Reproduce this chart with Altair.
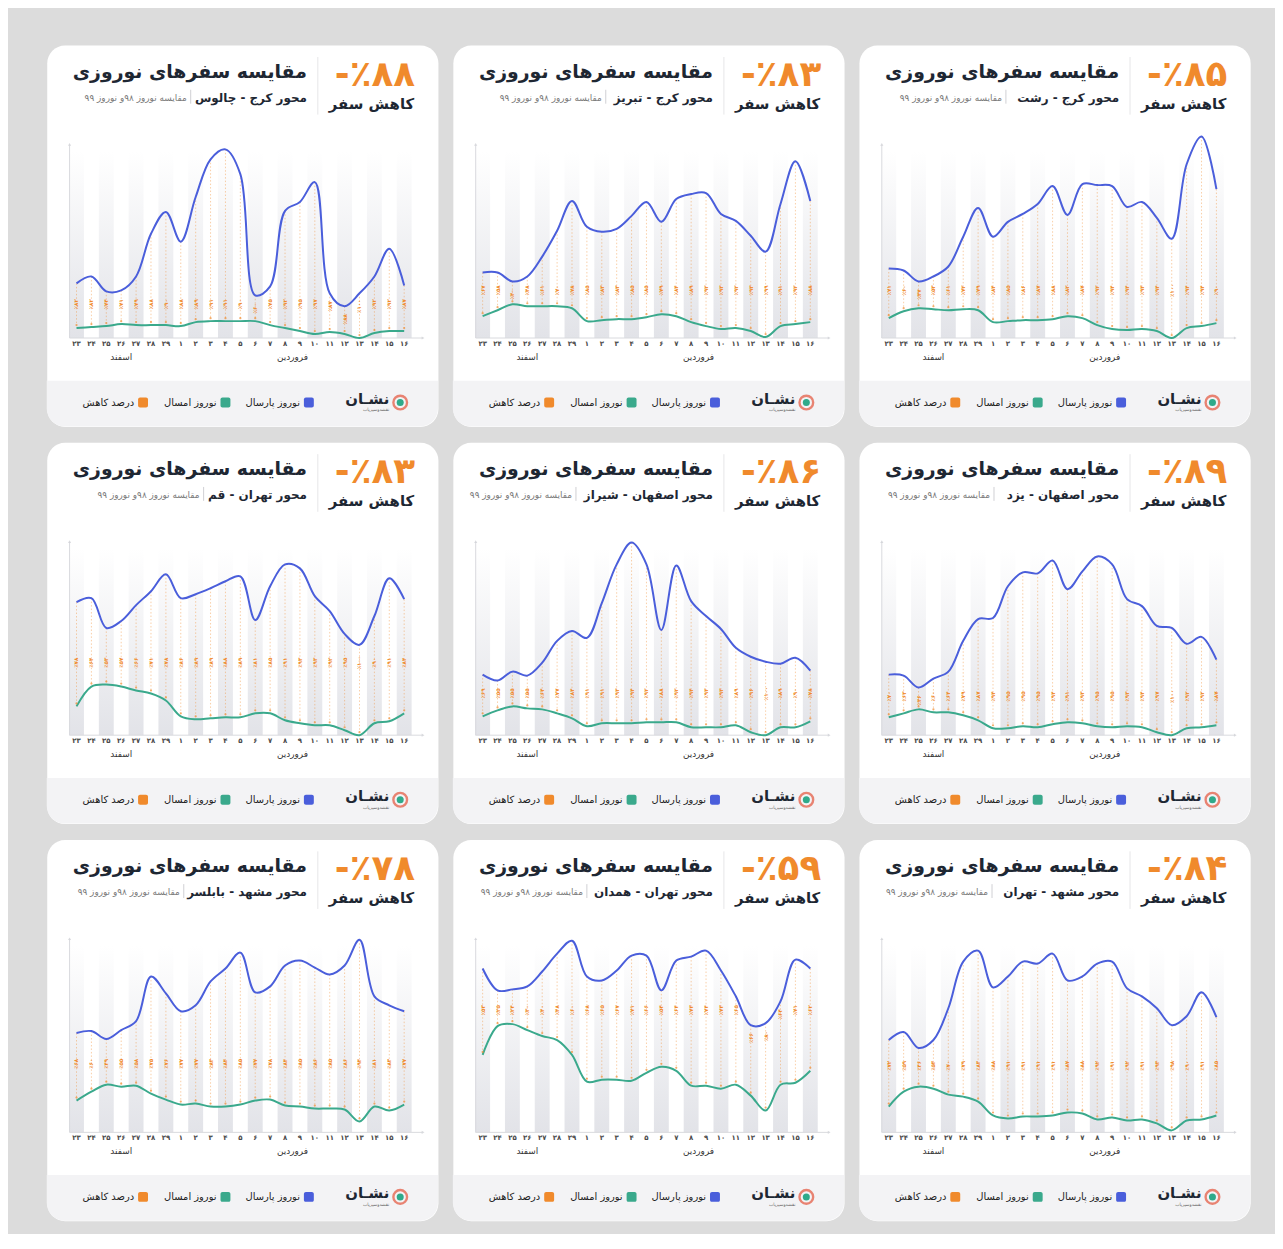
import altair as alt
import pandas as pd

FONT = "DejaVu Sans"
BLUE = "#4a5edb"
GREEN = "#3aa98c"
ORANGE = "#f08a2c"
DARK = "#1e2733"
W, H = 394, 384

FA = str.maketrans("0123456789", "۰۱۲۳۴۵۶۷۸۹")

days = ["۲۳", "۲۴", "۲۵", "۲۶", "۲۷", "۲۸", "۲۹", "۱", "۲", "۳", "۴", "۵",
        "۶", "۷", "۸", "۹", "۱۰", "۱۱", "۱۲", "۱۳", "۱۴", "۱۵", "۱۶"]
months = ["اسفند"] * 7 + ["فروردین"] * 16

headlines = ["-٪۸۸", "-٪۸۳", "-٪۸۵", "-٪۸۳", "-٪۸۶", "-٪۸۹", "-٪۷۸", "-٪۵۹", "-٪۸۴"]
routes = ["محور کرج - چالوس", "محور کرج - تبریز", "محور کرج - رشت",
          "محور تهران - قم", "محور اصفهان - شیراز", "محور اصفهان - یزد",
          "محور مشهد - بابلسر", "محور تهران - همدان", "محور مشهد - تهران"]
title_text = "مقایسه سفرهای نوروزی"
kahesh_text = "کاهش سفر"
sub_text = "مقایسه نوروز ۹۸و نوروز ۹۹"
legend_names = ["نوروز پارسال", "نوروز امسال", "درصد کاهش"]
logo_text = "نشـان"
logo_sub = "نقشه‌وسیر‌یاب"

blue_1 = [55, 62, 47, 48, 62, 105, 127, 97, 142, 180, 190, 165, 43, 52, 128, 137, 157, 45, 32, 45, 62, 90, 53]
green_1 = [10, 11, 12, 14, 13, 13, 13, 12, 16, 17, 17, 17, 17, 13, 10, 7, 4, 6, 4, 0, 5, 7, 7]
blue_2 = [66, 66, 57, 62, 82, 108, 138, 112, 107, 110, 123, 137, 117, 140, 145, 146, 125, 118, 103, 87, 135, 178, 138]
green_2 = [22, 28, 34, 32, 32, 32, 30, 17, 18, 19, 19, 21, 24, 22, 16, 12, 9, 10, 7, 1, 12, 14, 16]
blue_3 = [70, 68, 57, 62, 72, 102, 131, 102, 117, 125, 135, 153, 124, 155, 154, 153, 132, 137, 121, 100, 175, 203, 150]
green_3 = [20, 27, 30, 29, 28, 29, 28, 16, 17, 18, 18, 19, 22, 20, 13, 9, 8, 9, 7, 0, 10, 12, 15]
blue_4 = [134, 138, 108, 115, 131, 145, 162, 138, 142, 148, 155, 160, 116, 150, 172, 168, 140, 125, 102, 91, 120, 158, 137]
green_4 = [29, 49, 51, 49, 45, 42, 35, 19, 16, 17, 18, 18, 22, 22, 15, 12, 10, 10, 5, 0, 12, 14, 22]
blue_5 = [61, 55, 64, 60, 73, 95, 105, 98, 133, 172, 194, 172, 106, 171, 135, 120, 107, 88, 79, 74, 72, 78, 65]
green_5 = [19, 25, 29, 27, 26, 22, 17, 9, 12, 12, 12, 13, 13, 13, 8, 8, 8, 10, 3, 0, 8, 8, 14]
blue_6 = [61, 60, 48, 57, 64, 95, 117, 118, 150, 164, 163, 176, 147, 165, 180, 172, 137, 130, 110, 108, 92, 99, 76]
green_6 = [18, 22, 26, 23, 23, 20, 15, 7, 7, 9, 8, 11, 13, 12, 9, 8, 9, 8, 3, 0, 7, 8, 10]
blue_7 = [100, 102, 94, 103, 112, 157, 140, 122, 128, 152, 165, 181, 141, 147, 168, 173, 166, 159, 168, 194, 137, 128, 122]
green_7 = [32, 41, 48, 46, 47, 39, 33, 28, 29, 26, 26, 28, 32, 33, 27, 26, 24, 24, 23, 11, 26, 22, 28]
blue_8 = [165, 143, 144, 147, 162, 180, 193, 157, 153, 163, 178, 178, 143, 173, 177, 183, 163, 137, 108, 110, 132, 174, 165]
green_8 = [78, 107, 109, 103, 97, 93, 78, 51, 53, 53, 52, 60, 66, 62, 47, 47, 44, 48, 37, 22, 48, 50, 62]
blue_9 = [93, 101, 85, 93, 125, 172, 183, 146, 157, 172, 170, 180, 153, 157, 170, 172, 145, 137, 125, 108, 117, 141, 116]
green_9 = [26, 41, 46, 44, 38, 36, 31, 17, 14, 16, 16, 17, 20, 19, 13, 15, 12, 13, 9, 2, 12, 13, 17]

blues = [blue_1, blue_2, blue_3, blue_4, blue_5, blue_6, blue_7, blue_8, blue_9]
greens = [green_1, green_2, green_3, green_4, green_5, green_6, green_7, green_8, green_9]

# layout constants (pixels / value units inside each card)
label_level = [34, 48, 48, 73, 42, 39, 69, 123, 67]
sub_right = [141, 150, 144, 154, 120, 132, 134, 131, 130]

x_scale = alt.Scale(domain=[0, 22], range=[30, 360])
y_scale = alt.Scale(domain=[0, 200], range=[295, 95])

stripe_fill = alt.Gradient(
    gradient="linear",
    stops=[alt.GradientStop(color="#ffffff", offset=0),
           alt.GradientStop(color="#e2e3e8", offset=1)],
    x1=0, x2=0, y1=0, y2=1)

one = pd.DataFrame({"a": [1]})


def panel(k):
    df = pd.DataFrame({"i": list(range(23)), "day": days, "month": months,
                       "blue": blues[k], "green": greens[k]})
    df["pct"] = [round(100 * (1 - g / b)) for b, g in zip(df["blue"], df["green"])]
    df["lab"] = ["٪" + str(p).translate(FA) for p in df["pct"]]
    df["label_y"] = [min(label_level[k], b - 13) for b in df["blue"]]
    df["tip"] = df["green"] + 3

    X = alt.X("i:Q", scale=x_scale, axis=None)
    base = alt.Chart(df)

    st = pd.DataFrame({"i": [i for i in range(0, 23, 2)]})
    st["a"] = st["i"] - 0.5
    st["b"] = st["i"] + 0.5
    stripes = alt.Chart(st).mark_rect(fill=stripe_fill).encode(
        x=alt.X("a:Q", scale=x_scale, axis=None), x2="b:Q",
        y=alt.value(107), y2=alt.value(295))

    O = alt.Chart(one)
    axis_y = O.mark_rule(color="#d9dade", strokeWidth=1).encode(
        x=alt.value(23), y=alt.value(101), y2=alt.value(295))
    axis_x = O.mark_rule(color="#d9dade", strokeWidth=1).encode(
        x=alt.value(23), x2=alt.value(378), y=alt.value(295))
    arr_up = O.mark_point(shape="triangle-up", filled=True, size=10, color="#c8c9ce").encode(
        x=alt.value(23), y=alt.value(100))
    arr_rt = O.mark_point(shape="triangle-right", filled=True, size=10, color="#c8c9ce").encode(
        x=alt.value(379), y=alt.value(295))

    drops = base.mark_rule(color=ORANGE, strokeWidth=0.7, strokeDash=[1.5, 2], opacity=0.6).encode(
        x=X, y=alt.Y("blue:Q", scale=y_scale, axis=None), y2="tip:Q")
    tips = base.mark_point(shape="circle", filled=True, size=5, color=ORANGE).encode(
        x=X, y=alt.Y("tip:Q", scale=y_scale, axis=None))
    labels = base.mark_text(angle=270, align="center", baseline="middle", font=FONT,
                            fontSize=5.5, fontWeight="bold", color=ORANGE).encode(
        x=X, y=alt.Y("label_y:Q", scale=y_scale, axis=None), text="lab:N")
    blue_line = base.mark_line(color=BLUE, strokeWidth=2, interpolate="catmull-rom").encode(
        x=X, y=alt.Y("blue:Q", scale=y_scale, axis=None))
    green_line = base.mark_line(color=GREEN, strokeWidth=2, interpolate="catmull-rom").encode(
        x=X, y=alt.Y("green:Q", scale=y_scale, axis=None))
    ticks = base.mark_text(font=FONT, fontSize=7, fontWeight="bold", color="#4a4a4a",
                           baseline="middle").encode(
        x=X, y=alt.value(301), text="day:N")
    mdf = df.groupby("month", sort=False)["i"].mean().reset_index()
    month_lab = alt.Chart(mdf).mark_text(font=FONT, fontSize=9, color="#333333",
                                         baseline="middle").encode(
        x=alt.X("i:Q", scale=x_scale, axis=None), y=alt.value(314), text="month:N")

    hdr = pd.DataFrame({"head": [headlines[k]], "kah": [kahesh_text], "title": [title_text],
                        "route": [routes[k]], "sub": [sub_text]})
    Hc = alt.Chart(hdr)
    t_head = Hc.mark_text(align="right", baseline="alphabetic", font=FONT, fontSize=36,
                          fontWeight="bold", color=ORANGE).encode(
        x=alt.value(371), y=alt.value(41), text="head:N")
    t_kah = Hc.mark_text(align="right", baseline="alphabetic", font=FONT, fontSize=15,
                         fontWeight="bold", color=DARK).encode(
        x=alt.value(370), y=alt.value(64), text="kah:N")
    sep = O.mark_rule(color="#e6e6e8", strokeWidth=1).encode(
        x=alt.value(273), y=alt.value(12), y2=alt.value(70))
    t_title = Hc.mark_text(align="right", baseline="alphabetic", font=FONT, fontSize=19,
                           fontWeight="bold", color=DARK).encode(
        x=alt.value(262), y=alt.value(33), text="title:N")
    t_route = Hc.mark_text(align="right", baseline="alphabetic", font=FONT, fontSize=12,
                           fontWeight="bold", color=DARK).encode(
        x=alt.value(262), y=alt.value(57), text="route:N")
    sep2 = O.mark_rule(color="#d0d0d4", strokeWidth=1).encode(
        x=alt.value(sub_right[k] + 4), y=alt.value(45), y2=alt.value(59))
    t_sub = Hc.mark_text(align="right", baseline="alphabetic", font=FONT, fontSize=9,
                         color="#7a7a7a").encode(
        x=alt.value(sub_right[k]), y=alt.value(56), text="sub:N")

    footer = O.mark_rect(color="#f3f3f5", cornerRadiusBottomLeft=18,
                         cornerRadiusBottomRight=18).encode(
        x=alt.value(0), x2=alt.value(W), y=alt.value(338), y2=alt.value(H))

    leg_layers = []
    for name, col, sx in zip(legend_names, [BLUE, GREEN, ORANGE], [264, 180, 97]):
        ldf = pd.DataFrame({"name": [name]})
        L = alt.Chart(ldf)
        leg_layers.append(L.mark_rect(color=col, cornerRadius=2).encode(
            x=alt.value(sx - 5), x2=alt.value(sx + 5), y=alt.value(355), y2=alt.value(365)))
        leg_layers.append(L.mark_text(align="right", baseline="middle", font=FONT, fontSize=10,
                                      color="#222222").encode(
            x=alt.value(sx - 9), y=alt.value(360), text="name:N"))

    ldf2 = pd.DataFrame({"t": [logo_text], "s": [logo_sub]})
    Lg = alt.Chart(ldf2)
    ring = Lg.mark_point(shape="circle", filled=False, stroke="#e4553c", strokeWidth=2.4,
                         size=190).encode(x=alt.value(356), y=alt.value(360))
    dot = Lg.mark_point(shape="circle", filled=True, color="#2faa8a", size=50, opacity=1).encode(
        x=alt.value(356), y=alt.value(360))
    logo_t = Lg.mark_text(align="right", baseline="alphabetic", font=FONT, fontSize=15,
                          fontWeight="bold", color=DARK).encode(
        x=alt.value(345), y=alt.value(361), text="t:N")
    logo_s = Lg.mark_text(align="right", baseline="middle", font=FONT, fontSize=4.5,
                          color="#666666").encode(
        x=alt.value(345), y=alt.value(368), text="s:N")

    return alt.layer(
        stripes, axis_y, axis_x, arr_up, arr_rt, drops, blue_line, green_line, tips, labels,
        ticks, month_lab, t_head, t_kah, sep, t_title, t_route, sep2, t_sub, footer,
        *leg_layers, ring, dot, logo_t, logo_s
    ).properties(width=W, height=H)


chart = alt.concat(*[panel(k) for k in range(9)], columns=3,
                   spacing={"row": 16, "column": 15}, bounds="flush",
                   padding={"left": 38, "top": 32, "right": 24, "bottom": 8}).configure(
    background="#dcdcdc"
).configure_view(fill="white", stroke="transparent", cornerRadius=18)

chart.save("out.html", embed_options={"renderer": "svg", "actions": False})
